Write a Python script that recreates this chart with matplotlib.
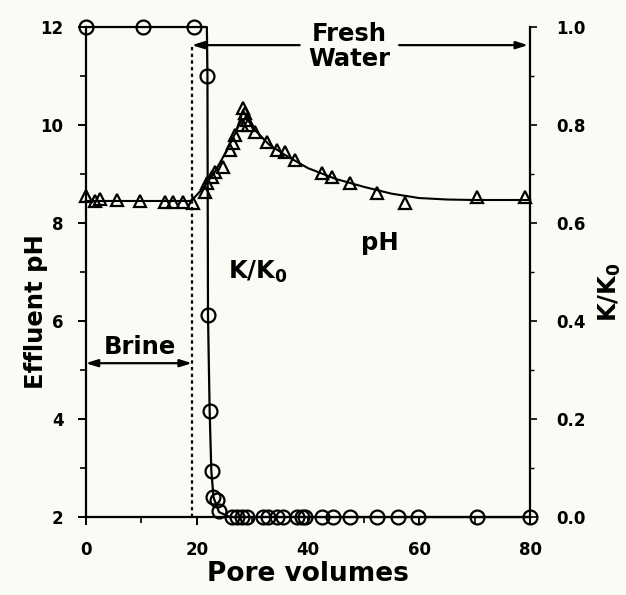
import numpy as np
import matplotlib
matplotlib.use("Agg")
import matplotlib.pyplot as plt

# effluent pH measurements (triangles)
ph_pv = [0.0, 1.6, 2.5, 5.6, 9.7, 14.2, 15.7, 17.5, 19.3, 21.4, 21.8, 22.7, 23.2,
         24.7, 25.9, 26.5, 26.8, 28.1, 28.3, 28.6, 29.0, 29.2, 30.5, 32.6, 34.4,
         35.9, 37.7, 42.5, 44.3, 47.6, 52.4, 57.5, 70.5, 79.0]
ph_val = [8.55, 8.45, 8.5, 8.47, 8.45, 8.42, 8.42, 8.43, 8.41, 8.63, 8.82, 8.94, 9.04,
          9.14, 9.49, 9.63, 9.8, 10.0, 10.35, 10.24, 10.1, 10.0, 9.86, 9.65, 9.49,
          9.45, 9.29, 9.02, 8.94, 8.82, 8.61, 8.41, 8.53, 8.53]

# smoothed pH trend
ph_fit_pv = [0, 19, 21, 23, 25, 27, 28.3, 30, 33, 36, 40, 45, 50, 55, 60, 65, 70, 80]
ph_fit_val = [8.45, 8.45, 8.7, 9.0, 9.4, 9.85, 10.3, 9.95, 9.6, 9.38, 9.12, 8.9,
              8.74, 8.6, 8.51, 8.48, 8.47, 8.47]

# permeability ratio K/K0 (circles)
k_pv = [0.0, 10.3, 19.5, 21.8, 22.0, 22.3, 22.7, 22.9, 23.6, 24.0, 26.3, 27.2,
        28.1, 29.0, 31.9, 32.8, 34.4, 35.5, 38.0, 38.9, 39.5, 42.5, 44.5, 47.6,
        52.4, 56.2, 59.8, 70.5, 80.0]
k_val = [1.0, 1.0, 1.0, 0.9, 0.412, 0.216, 0.094, 0.041, 0.035, 0.012, 0.0, 0.0,
         0.0, 0.0, 0.0, 0.0, 0.0, 0.0, 0.0, 0.0, 0.0, 0.0, 0.0, 0.0,
         0.0, 0.0, 0.0, 0.0, 0.0]

k_line_pv = [0, 21.8, 21.9, 22.0, 22.3, 22.6, 23.0, 24.0, 26.0, 80]
k_line_val = [1.0, 1.0, 0.9, 0.412, 0.216, 0.094, 0.04, 0.01, 0.0, 0.0]

switch_pv = 19.1

bg = '#fbfaf4'
plt.rcParams['font.family'] = 'DejaVu Sans'
plt.rcParams['font.weight'] = 'bold'

fig = plt.figure(figsize=(6.26, 5.95), dpi=100, facecolor=bg)
ax = fig.add_axes([0.137, 0.131, 0.710, 0.8236])
ax.set_facecolor(bg)
ax2 = ax.twinx()

# pH curve
ax.plot(ph_fit_pv, ph_fit_val, color='black', lw=1.5, clip_on=False)
ax.plot(ph_pv, ph_val, ls='none', marker='^', ms=9, mfc='none', mec='black',
        mew=1.6, clip_on=False)

# K/K0 curve
ax2.plot(k_line_pv, k_line_val, color='black', lw=1.6, clip_on=False)
ax2.plot(k_pv, k_val, ls='none', marker='o', ms=10, mfc='none', mec='black',
         mew=1.6, clip_on=False)

ax.set_xlim(0, 80)
ax.set_ylim(2, 12)
ax2.set_ylim(0, 1)

# switch from brine to fresh water
ax.plot([switch_pv, switch_pv], [2, 11.65], color='black', ls=(0, (1.5, 1.5)), lw=1.6)

arrow = dict(arrowstyle='-|>,head_length=0.7,head_width=0.22', color='black',
             lw=1.6, shrinkA=0, shrinkB=0)
ax.annotate('', xy=(switch_pv, 11.63), xytext=(38.5, 11.63), arrowprops=arrow)
ax.annotate('', xy=(79.6, 11.63), xytext=(56.4, 11.63), arrowprops=arrow)
ax.text(47.5, 11.6, 'Fresh\nWater', ha='center', va='center', fontsize=17.5,
        fontweight='bold', linespacing=1.05)

arrow2 = dict(arrowstyle='<|-|>,head_length=0.7,head_width=0.22', color='black',
              lw=1.6, shrinkA=0, shrinkB=0)
ax.annotate('', xy=(0, 5.14), xytext=(switch_pv, 5.14), arrowprops=arrow2)
ax.text(9.7, 5.47, 'Brine', ha='center', va='center', fontsize=17.5, fontweight='bold')

ax.text(53, 7.6, 'pH', ha='center', va='center', fontsize=17.5, fontweight='bold')
ax.text(31, 7.0, 'K/K$_\\mathbf{0}$', ha='center', va='center', fontsize=17.5,
        fontweight='bold')

for a in (ax, ax2):
    a.spines['top'].set_visible(False)
ax.spines['right'].set_visible(False)
ax2.spines['left'].set_visible(False)
ax2.spines['bottom'].set_visible(False)
for a in (ax, ax2):
    for s in a.spines.values():
        s.set_linewidth(1.6)

ax.set_xticks([0, 20, 40, 60, 80])
ax.set_xticks([10, 30, 50, 70], minor=True)
ax.set_yticks([2, 4, 6, 8, 10, 12])
ax.set_yticks([3, 5, 7, 9, 11], minor=True)
ax2.set_yticks([0, 0.2, 0.4, 0.6, 0.8, 1.0])
ax2.set_yticks(np.arange(0.1, 1.0, 0.2), minor=True)
ax2.set_yticklabels(['0.0', '0.2', '0.4', '0.6', '0.8', '1.0'])

ax.tick_params(axis='y', which='major', direction='out', length=6, width=1.4,
               labelsize=12, pad=10)
ax.tick_params(axis='x', which='major', direction='out', length=6, width=1.4,
               labelsize=12, pad=11)
ax.tick_params(which='minor', direction='out', length=4, width=1.2)
ax2.tick_params(which='major', direction='out', length=5, width=1.2, labelsize=12, pad=14)
ax2.tick_params(which='minor', direction='out', length=3, width=1.0)

ax.set_xlabel('Pore volumes', fontsize=19, fontweight='bold')
ax.xaxis.set_label_coords(0.5, -0.09)
ax.set_ylabel('Effluent pH', fontsize=17.5, fontweight='bold')
ax.yaxis.set_label_coords(-0.086, 0.42)
ax2.set_ylabel('K/K$_\\mathbf{0}$', fontsize=17.5, fontweight='bold')
ax2.yaxis.set_label_coords(1.15, 0.46)

fig.savefig('out.png', dpi=100, facecolor=bg)
